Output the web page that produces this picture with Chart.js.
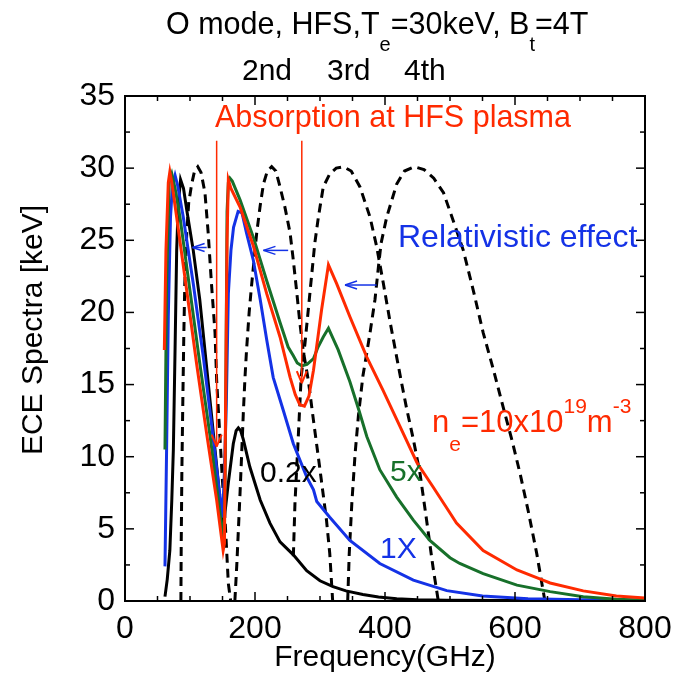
<!DOCTYPE html>
<html>
<head>
<meta charset="utf-8">
<script src="https://cdn.jsdelivr.net/npm/chart.js@4.4.0/dist/chart.umd.min.js"></script>
<style>
    body { margin: 0; background: #fff; }
    #wrap { width: 673px; height: 677px; }
</style>
</head>
<body>
<div id="wrap"><canvas id="canvasGrafici"></canvas></div>
<script>
// ECE spectra, O mode, HFS, Te = 30 keV, Bt = 4 T  (frequency in GHz, spectrum in keV)
const freqNe10 = [60.5, 63, 66.6, 69, 72, 79.5, 95, 110, 125.6, 141, 151, 153, 155, 157, 159, 163, 177, 197.5, 218, 238.5, 254, 262, 269, 276, 283, 290, 302.5, 313, 325.6, 346, 372, 397, 423, 449, 474, 500, 510, 551, 603, 643, 654, 705, 756, 800];
const keVNe10 = [17.4, 24.3, 29.0, 29.75, 29.0, 26.6, 21.5, 16.5, 11.6, 7.0, 3.5, 4, 15, 25, 29.2, 28.6, 27.3, 24.6, 21.3, 18.3, 15.5, 14.3, 13.6, 13.5, 14.2, 16, 20.2, 23.3, 22, 19.7, 16.9, 14.6, 12.1, 9.6, 7.9, 6.1, 5.4, 3.5, 2.15, 1.45, 1.25, 0.7, 0.35, 0.2];

const freqNe5 = [61.5, 64, 68, 72, 77, 84.6, 100, 115, 131, 143.6, 152, 154, 155.5, 157, 159, 161.5, 165, 177, 197.5, 218, 238.5, 251, 259, 265, 272, 280, 290, 297, 305, 313, 320, 328, 346, 360, 372, 392, 418, 443.6, 469, 500, 515, 551, 603, 654, 705, 756, 800];
const keVNe5 = [10.5, 22, 29, 29.6, 28.6, 26.6, 21.5, 16.5, 11.4, 7.0, 4.0, 8, 17, 27, 29.0, 29.3, 29.1, 27.8, 25.2, 22.2, 19.3, 17.6, 17.0, 16.5, 16.3, 16.4, 16.8, 17.6, 18.3, 18.9, 18.2, 17.4, 15.2, 13.2, 11.4, 9.1, 7.2, 5.6, 4.2, 3.0, 2.6, 1.9, 1.1, 0.65, 0.3, 0.12, 0.05];

const freqNe1 = [61.5, 64, 66.6, 70, 73, 77, 81, 89.7, 97, 105, 120.5, 133, 143.6, 150, 153, 156, 159, 163, 167, 174, 180, 187, 197.5, 208, 218, 228, 243.6, 259, 279.5, 290, 295, 315, 346, 392, 443.6, 495, 550, 620, 700, 800];
const keVNe1 = [2.4, 10.5, 19.7, 26.6, 28.8, 29.5, 28.8, 26.6, 24.4, 22, 16.9, 12.3, 8.2, 5.8, 9, 14, 21.3, 24.3, 25.9, 27.0, 26.9, 25.5, 23.6, 20.9, 18.1, 15.5, 13.2, 10.9, 8.6, 7.7, 6.9, 5.8, 4.2, 2.6, 1.45, 0.72, 0.35, 0.15, 0.08, 0.05];

const freqNe02 = [61.5, 65, 69, 72, 74.4, 77, 79.5, 82, 85.5, 90, 95, 105, 115, 125.6, 136, 143.6, 150, 154, 159, 166.6, 171, 174.4, 178, 182, 192, 208, 223, 238.5, 259, 279.5, 300, 320, 340, 366, 390, 418, 450, 495, 600, 800];
const keVNe02 = [0.3, 1.5, 3.5, 7, 10.5, 17.4, 24.3, 27.5, 29.2, 28.6, 27.1, 24.3, 20.9, 16.2, 11.6, 8.2, 4.7, 6.2, 8.2, 10.9, 11.8, 12.0, 11.8, 11.2, 9.3, 7.0, 5.4, 4.1, 3.2, 2.1, 1.4, 1.0, 0.7, 0.45, 0.28, 0.15, 0.08, 0.05, 0.03, 0.02];

// emission profiles of the harmonics (dashed)
const freqH1 = [86, 86.5, 87.5, 89, 90.5, 92, 95, 98, 102.6, 107, 112, 117, 123, 128, 133, 138.5, 141, 146, 150, 154, 159, 162.6];
const keVH1 = [0, 4, 9, 14, 18.5, 22, 25.5, 27.6, 28.9, 29.8, 30.1, 29.7, 28.3, 25.5, 22, 18.6, 15.3, 11.4, 8.3, 5.6, 1.2, 0];

const freqH2 = [169, 172, 174, 177, 179.5, 182, 184.6, 187, 191, 195, 202.6, 208, 213, 219, 225.6, 232, 238.5, 246, 254, 259, 264, 269, 274, 282, 290, 300, 310, 315, 319.5];
const keVH2 = [0, 2.5, 4.5, 7.5, 10.2, 13, 15.5, 17.4, 20, 22, 25.5, 27.4, 28.9, 29.8, 30.1, 29.8, 28.7, 27.3, 25.5, 23.6, 21.5, 19.3, 17.4, 15.3, 12.5, 9.1, 5.6, 3.3, 0];

const freqH3 = [259, 261.5, 266.6, 271, 277, 282, 287, 292, 297.5, 305, 315, 325, 336, 348, 361.5, 377, 387, 397.5, 408, 418, 426, 433, 443.6, 454, 464, 474, 482];
const keVH3 = [3.1, 6.8, 11.4, 15.5, 17.9, 20.2, 22.5, 24.8, 26.6, 28.7, 29.6, 30, 30.1, 29.8, 28.7, 26.6, 24.6, 22, 19.3, 16.9, 15, 13.4, 11.2, 8.8, 5.6, 2.3, 0];

const freqH4 = [342.6, 345, 349, 354, 359, 366, 372, 377, 384.6, 390, 394, 402.6, 418, 430, 445, 460, 475, 490, 500, 510, 520.5, 536, 551, 567, 582, 595, 608, 620.5, 633.4, 646];
const keVH4 = [0, 3.3, 6.8, 10.2, 12.8, 15.6, 17.2, 18.6, 20.9, 23.2, 24.8, 26.6, 28.9, 29.8, 30.1, 29.9, 29.3, 28.3, 27.0, 25.7, 24.3, 21.5, 18.6, 16, 13.4, 11.2, 8.8, 6.2, 3.3, 0];

const xTickLabels = [0, 200, 400, 600, 800];
const yTickLabels = [0, 5, 10, 15, 20, 25, 30, 35];

const ROSSO = '#ff2a00';
const VERDE = '#17702a';
const BLU = '#1432e6';
const FONT = '"Liberation Sans", Arial, sans-serif';

function punti(fs, vs) {
    return fs.map((f, i) => ({ x: f, y: vs[i] }));
}

function serie(fs, vs, colore, tratteggio) {
    return {
        data: punti(fs, vs),
        borderColor: colore,
        borderWidth: 3,
        borderDash: tratteggio ? [9, 6] : [],
        pointRadius: 0,
        tension: 0,
        fill: false
    };
}

function linea(ctx, x1, y1, x2, y2) {
    ctx.beginPath();
    ctx.moveTo(x1, y1);
    ctx.lineTo(x2, y2);
    ctx.stroke();
}

// disegna testo a pezzi: [testo, dimensione, spostamento verticale]
function testoComposto(ctx, x, y, pezzi, colore) {
    ctx.fillStyle = colore;
    ctx.textAlign = 'left';
    ctx.textBaseline = 'alphabetic';
    pezzi.forEach(p => {
        ctx.font = p[1] + 'px ' + FONT;
        ctx.fillText(p[0], x, y + p[2]);
        x += ctx.measureText(p[0]).width;
    });
}

const decorazioni = {
    id: 'decorazioni',
    afterDatasetsDraw(chart) {
        const ctx = chart.ctx;
        const a = chart.chartArea;
        const sx = chart.scales.x, sy = chart.scales.y;
        ctx.save();

        // cornice
        ctx.strokeStyle = '#000';
        ctx.lineWidth = 2;
        ctx.setLineDash([]);
        ctx.strokeRect(a.left, a.top, a.right - a.left, a.bottom - a.top);

        // tacche interne su tutti i lati
        ctx.lineWidth = 1.5;
        for (let f = 0; f <= 800; f += 50) {
            const px = sx.getPixelForValue(f);
            const len = f % 200 === 0 ? 9 : 5;
            linea(ctx, px, a.bottom, px, a.bottom - len);
            linea(ctx, px, a.top, px, a.top + len);
        }
        for (let v = 0; v <= 35; v += 2.5) {
            const py = sy.getPixelForValue(v);
            const len = v % 5 === 0 ? 9 : 5;
            linea(ctx, a.left, py, a.left + len, py);
            linea(ctx, a.right, py, a.right - len, py);
        }

        // frecce rosse: assorbimento
        ctx.strokeStyle = ROSSO;
        [[141, 10.7], [272, 15.1]].forEach(p => {
            const px = sx.getPixelForValue(p[0]);
            const yTop = sy.getPixelForValue(31.9);
            const yTip = sy.getPixelForValue(p[1]);
            ctx.lineWidth = 1.5;
            linea(ctx, px, yTop, px, yTip);
            ctx.lineWidth = 2;
            linea(ctx, px - 5, yTip - 12, px, yTip);
            linea(ctx, px + 5, yTip - 12, px, yTip);
        });

        // frecce blu: effetto relativistico
        ctx.strokeStyle = BLU;
        [[125.7, 104, 24.5], [251, 213, 24.3], [387, 338.5, 21.9]].forEach(p => {
            const x1 = sx.getPixelForValue(p[0]);
            const x2 = sx.getPixelForValue(p[1]);
            const py = sy.getPixelForValue(p[2]);
            ctx.lineWidth = 1.5;
            linea(ctx, x1, py, x2, py);
            linea(ctx, x2 + 12, py - 4, x2, py);
            linea(ctx, x2 + 12, py + 4, x2, py);
        });

        // etichette nel grafico
        testoComposto(ctx, 215, 127, [['Absorption at HFS plasma', 30.5, 0]], ROSSO);
        testoComposto(ctx, 398, 247, [['Relativistic effect', 32, 0]], BLU);
        testoComposto(ctx, 432, 432, [['n', 31, 0], ['e', 21, 19], ['=10x10', 31, 0], ['19', 21, -19], ['m', 31, 0], ['-3', 21, -19]], ROSSO);
        testoComposto(ctx, 390, 481, [['5x', 30, 0]], VERDE);
        testoComposto(ctx, 380, 558, [['1X', 30, 0]], BLU);
        testoComposto(ctx, 260, 482, [['0.2x', 30, 0]], '#000');

        // titoli
        testoComposto(ctx, 166, 34, [['O mode, HFS,T', 30.5, 0], ['e', 20, 17], ['=30keV, B', 30.5, 0], ['t', 20, 17], ['=4T', 30.5, 0]], '#000');
        testoComposto(ctx, 242, 80, [['2nd', 30, 0]], '#000');
        testoComposto(ctx, 327, 80, [['3rd', 30, 0]], '#000');
        testoComposto(ctx, 404, 80, [['4th', 30, 0]], '#000');

        // titoli degli assi
        ctx.fillStyle = '#000';
        ctx.font = '30px ' + FONT;
        ctx.textAlign = 'center';
        ctx.fillText('Frequency(GHz)', (a.left + a.right) / 2, 666);
        ctx.translate(42, 330);
        ctx.rotate(-Math.PI / 2);
        ctx.fillText('ECE Spectra [keV]', 0, 0);

        ctx.restore();
    }
};

const chart = new Chart(document.getElementById('canvasGrafici'), {
    type: 'line',
    data: {
        datasets: [
            serie(freqNe10, keVNe10, ROSSO, false),
            serie(freqNe5, keVNe5, VERDE, false),
            serie(freqNe1, keVNe1, BLU, false),
            serie(freqNe02, keVNe02, '#000', false),
            serie(freqH1, keVH1, '#000', true),
            serie(freqH2, keVH2, '#000', true),
            serie(freqH3, keVH3, '#000', true),
            serie(freqH4, keVH4, '#000', true)
        ]
    },
    options: {
        responsive: true,
        maintainAspectRatio: false,
        animation: false,
        layout: { padding: { left: 0, top: 96, right: 28, bottom: 0 } },
        plugins: { legend: { display: false }, tooltip: { enabled: false } },
        scales: {
            x: {
                type: 'linear',
                min: 0,
                max: 800,
                afterFit: s => { s.height = 76; s.paddingLeft = 0; s.paddingRight = 0; },
                afterBuildTicks: s => { s.ticks = xTickLabels.map(v => ({ value: v })); },
                grid: { display: false, drawTicks: false },
                border: { display: false },
                ticks: { padding: 9, color: '#000', maxRotation: 0, font: { family: FONT, size: 32 } }
            },
            y: {
                type: 'linear',
                min: 0,
                max: 35,
                afterFit: s => { s.width = 125; s.paddingTop = 0; s.paddingBottom = 0; },
                afterBuildTicks: s => { s.ticks = yTickLabels.map(v => ({ value: v })); },
                grid: { display: false, drawTicks: false },
                border: { display: false },
                ticks: { padding: 10, color: '#000', font: { family: FONT, size: 32 } }
            }
        }
    },
    plugins: [decorazioni]
});
</script>
</body>
</html>
